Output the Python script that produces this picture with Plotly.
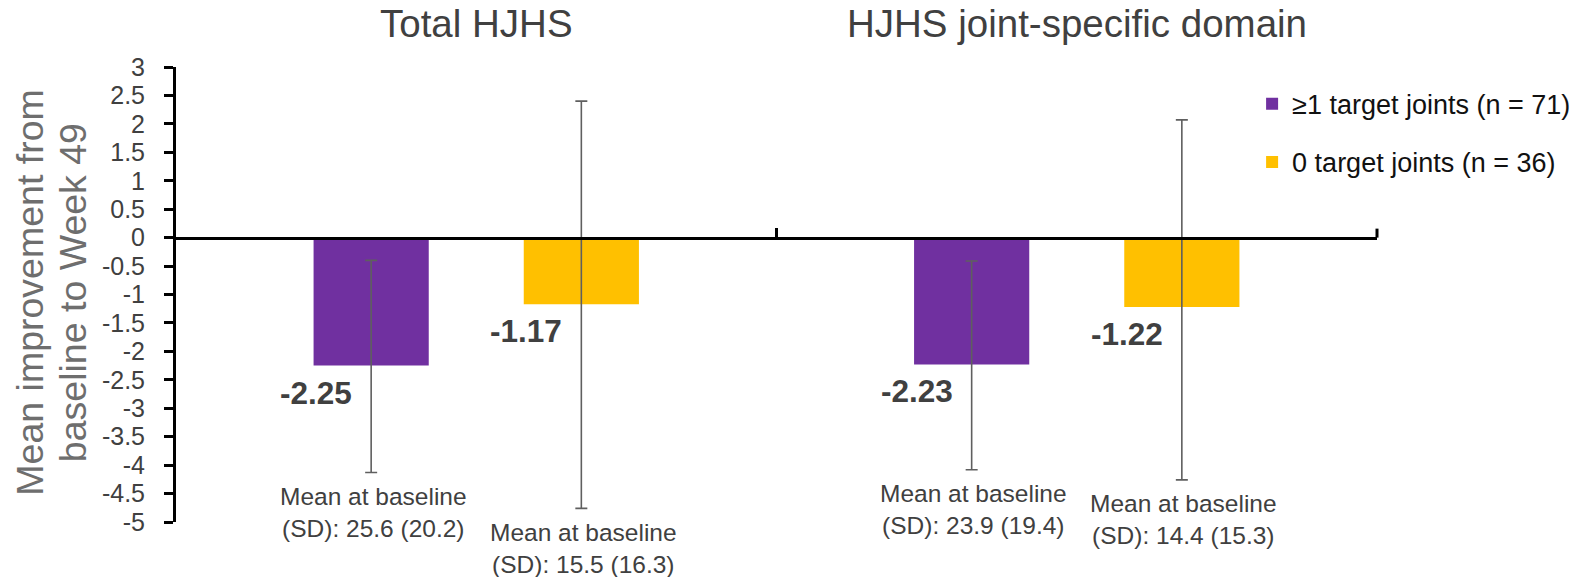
import plotly.graph_objects as go

# HJHS outcome domains (x categories)
domains = ["Total HJHS", "HJHS joint-specific domain"]

# Series: patients with >=1 target joints
ge1_name = "≥1 target joints (n = 71)"
ge1_change = [-2.25, -2.23]
ge1_err_plus = [1.85, 1.82]
ge1_err_minus = [1.88, 1.85]
ge1_baseline = ["25.6 (20.2)", "23.9 (19.4)"]

# Series: patients with 0 target joints
zero_name = "0 target joints (n = 36)"
zero_change = [-1.17, -1.22]
zero_err_plus = [3.57, 3.29]
zero_err_minus = [3.59, 3.04]
zero_baseline = ["15.5 (16.3)", "14.4 (15.3)"]

# Y axis ticks
y_tick_vals = [3, 2.5, 2, 1.5, 1, 0.5, 0, -0.5, -1, -1.5, -2, -2.5, -3, -3.5, -4, -4.5, -5]
y_tick_text = ["3", "2.5", "2", "1.5", "1", "0.5", "0", "-0.5", "-1", "-1.5", "-2",
               "-2.5", "-3", "-3.5", "-4", "-4.5", "-5"]

# Y axis title, one entry per line
y_title_lines = ["Mean improvement from", "baseline to Week 49"]

PURPLE = "#7030A0"
GOLD = "#FFC000"
FONT = "Liberation Sans, Arial, sans-serif"
DARK = "#404040"

fig = go.Figure()

series = [
    (ge1_name, ge1_change, ge1_err_plus, ge1_err_minus, ge1_baseline, PURPLE, -105),
    (zero_name, zero_change, zero_err_plus, zero_err_minus, zero_baseline, GOLD, 105),
]

annotations = []
for i, (name, vals, ep, em, base, color, offset) in enumerate(series):
    fig.add_trace(go.Bar(
        name=name,
        x=domains,
        y=vals,
        marker=dict(color=color, line=dict(width=0)),
        legendgroup=f"g{i}",
        error_y=dict(type="data", symmetric=False, array=ep, arrayminus=em,
                     color="#5f5f5f", thickness=1.6, width=6),
    ))
    for d, v, lo, b in zip(domains, vals, em, base):
        # bold value label beside the bar end
        annotations.append(dict(
            x=d, y=v, xref="x", yref="y", text=f"<b>{v:.2f}</b>",
            showarrow=False, xshift=offset - 55, yshift=-27,
            xanchor="center", yanchor="middle",
            font=dict(family=FONT, size=31.5, color=DARK),
        ))
        # baseline mean below the error bar
        annotations.append(dict(
            x=d, y=v - lo, xref="x", yref="y",
            text=f"Mean at baseline<br>(SD): {b}",
            showarrow=False, xshift=offset + 2, yshift=-40,
            xanchor="center", yanchor="middle",
            font=dict(family=FONT, size=24.5, color=DARK),
        ))

# domain headings above the plot
for d in domains:
    annotations.append(dict(
        x=d, y=1, xref="x", yref="paper", text=d, showarrow=False,
        xanchor="center", yanchor="middle", yshift=44,
        font=dict(family=FONT, size=38.5, color=DARK),
    ))

# rotated y axis title, line by line
for line, shift in zip(y_title_lines, [-145.5, -103]):
    annotations.append(dict(
        x=0, y=0.503, xref="paper", yref="paper", text=line, textangle=-90,
        showarrow=False, xanchor="center", yanchor="middle", xshift=shift,
        font=dict(family=FONT, size=37.5, color="#6e6e6e"),
    ))

fig.update_layout(
    width=1585, height=577,
    margin=dict(l=176, r=208, t=67, b=55, autoexpand=False),
    paper_bgcolor="white", plot_bgcolor="white",
    barmode="group", bargap=0.30, bargroupgap=0.452,
    font=dict(family=FONT, color=DARK),
    showlegend=True,
    legend=dict(
        x=0.896, xanchor="left", y=0.972, yanchor="top",
        traceorder="grouped", tracegroupgap=20,
        font=dict(family=FONT, size=27, color="#111111"),
        bgcolor="rgba(0,0,0,0)",
    ),
    annotations=annotations,
    # tick mark at the right end of the zero axis
    shapes=[dict(type="line", xref="paper", x0=1, x1=1, yref="y",
                 ysizemode="pixel", yanchor=0, y0=0, y1=9,
                 line=dict(color="black", width=3))],
)

fig.update_xaxes(
    type="category", range=[-0.5, 1.5],
    anchor="free", position=0.625,
    showline=True, linecolor="black", linewidth=3,
    ticks="inside", tickson="boundaries", ticklen=9, tickwidth=3, tickcolor="black",
    showticklabels=False, showgrid=False, zeroline=False,
)

fig.update_yaxes(
    range=[-5, 3], tickvals=y_tick_vals, ticktext=y_tick_text,
    showline=True, linecolor="black", linewidth=3,
    ticks="outside", ticklen=9, tickwidth=3, tickcolor="black",
    ticklabelstandoff=14,
    tickfont=dict(family=FONT, size=25, color=DARK),
    showgrid=False, zeroline=False,
    automargin=False,
)

fig.write_html("out.html")
